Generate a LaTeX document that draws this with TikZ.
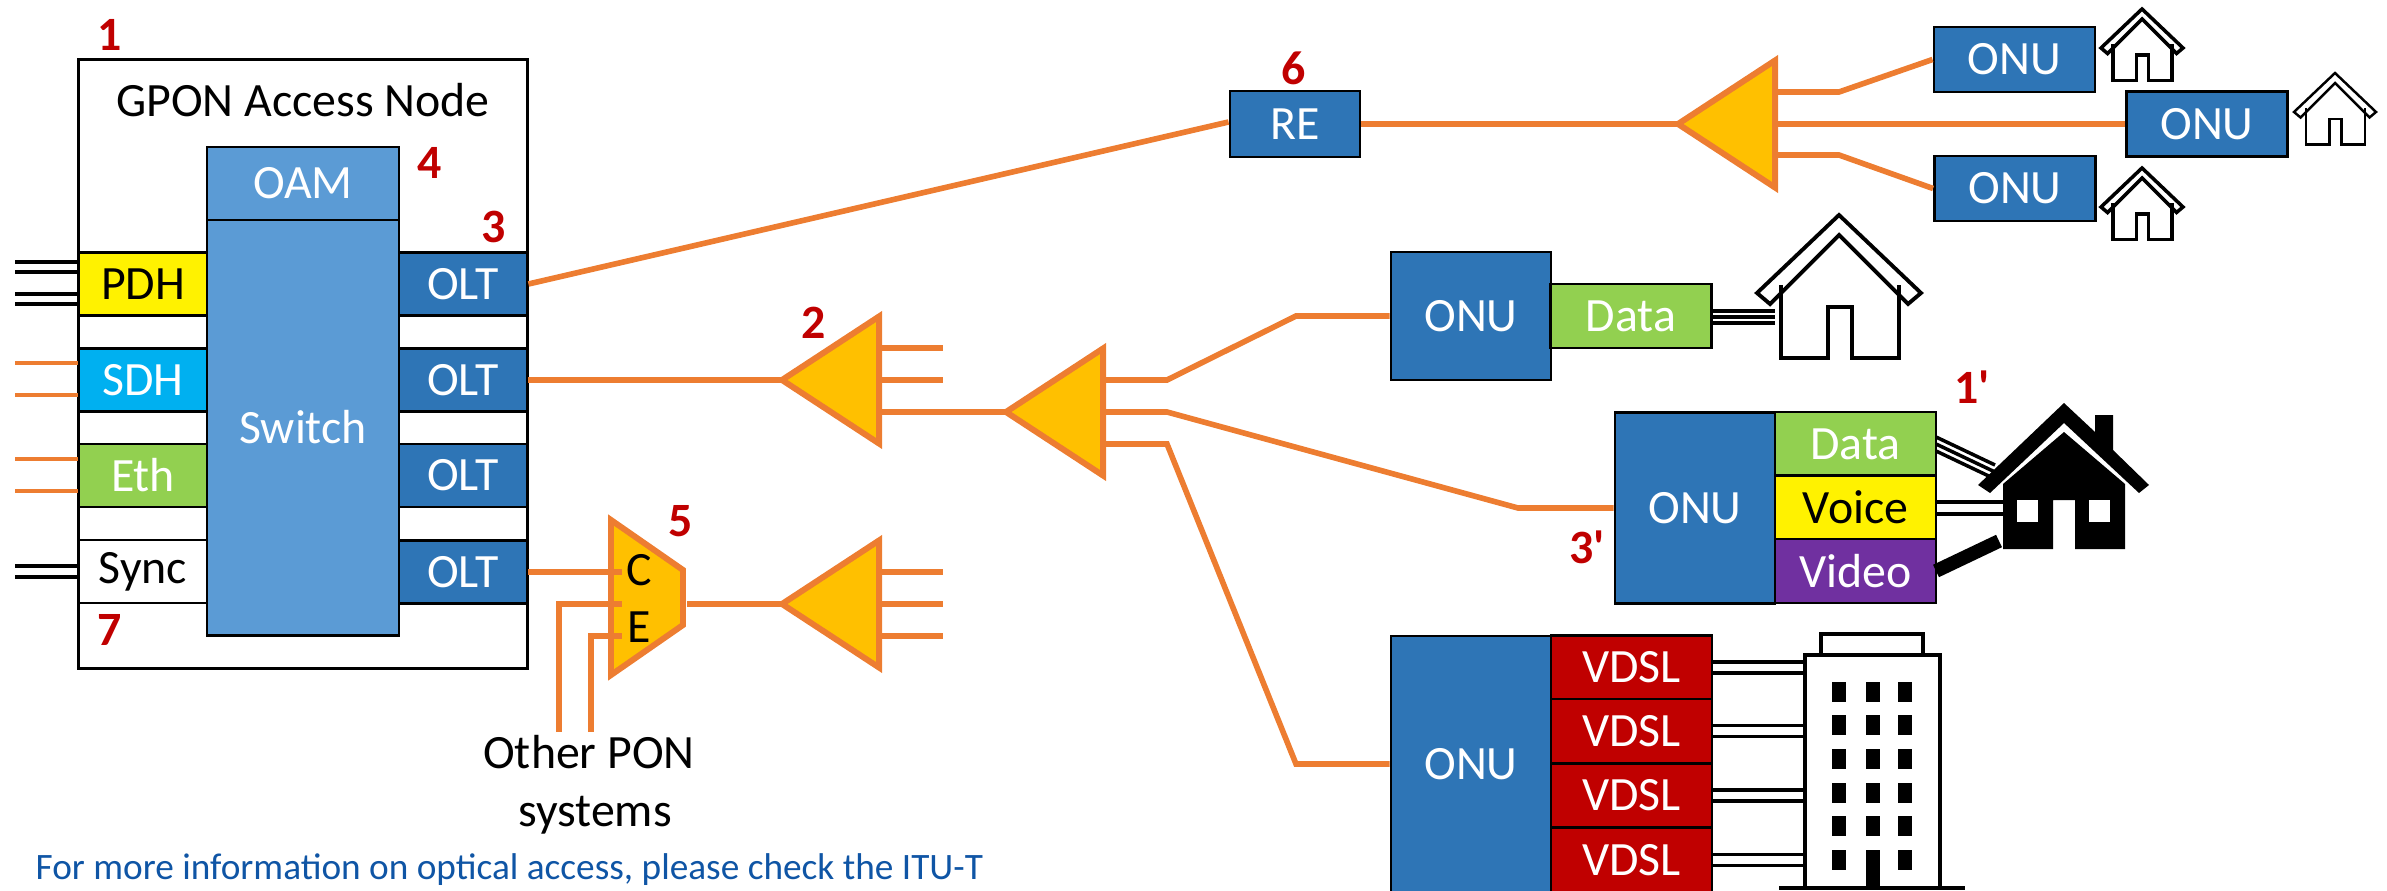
\documentclass[tikz,border=0pt]{standalone}
\usepackage{fontspec}
\setmainfont{Carlito}
\usetikzlibrary{shapes.geometric}
\definecolor{fiberorange}{HTML}{ED7D31}
\definecolor{splitgold}{HTML}{FFC000}
\definecolor{oltblue}{HTML}{2E75B6}
\definecolor{switchblue}{HTML}{5B9BD5}
\definecolor{sdhblue}{HTML}{00B0F0}
\definecolor{ethgreen}{HTML}{92D050}
\definecolor{videopurple}{HTML}{7030A0}
\definecolor{markred}{HTML}{C00000}
\definecolor{notelink}{HTML}{0F55A5}
\tikzset{
  box/.style={draw=black, line width=0.8pt, inner sep=0pt, font=\fontsize{13.6}{15}\selectfont, text=white},
  port/.style={box, minimum width=1.28cm, minimum height=0.63cm},
  olt/.style={port, fill=oltblue},
  onusmall/.style={box, fill=oltblue, minimum width=1.61cm, minimum height=0.65cm},
  service/.style={box, minimum width=1.61cm, minimum height=0.64cm},
  splitter/.style={isosceles triangle, isosceles triangle stretches, shape border rotate=180,
    draw=fiberorange, line width=1.7pt, fill=splitgold, inner sep=0pt, outer sep=0pt, anchor=apex,
    minimum width=1.27cm, minimum height=0.97cm},
  fiber/.style={draw=fiberorange, line width=1.6pt},
  copper/.style={draw=black, line width=1.3pt},
  num/.style={text=markred, font=\fontsize{13.6}{15}\selectfont\bfseries},
  plain/.style={font=\fontsize{13.6}{15}\selectfont},
  homeicon/.pic={
    \draw[fill=white] (-82,78) -- (0,0) -- (82,78) -- (69,89) -- (0,20) -- (-69,89) -- cycle;
    \draw (-58,70) -- (-58,143) -- (-11,143) -- (-11,92) -- (13,92) -- (13,143) -- (60,143) -- (60,70);
  }
}
\begin{document}
\begin{tikzpicture}[x=0.01cm, y=-0.01cm]
\useasboundingbox (0,0) rectangle (2387,891);

% access node
\node[draw=black, line width=0.8pt, minimum width=4.48cm, minimum height=6.08cm, inner sep=0pt] (gpon) at (303,364) {};
\node[plain] (gpontitle) at (303,100) {GPON Access Node};
\node[box, fill=switchblue, minimum width=1.92cm, minimum height=4.15cm] (switch) at (303,427.5) {Switch};
\node[box, fill=switchblue, minimum width=1.92cm, minimum height=0.73cm] (oam) at (303,183.5) {OAM};

\node[port, fill=yellow, text=black] (pdh) at (143,284) {PDH};
\node[port, fill=sdhblue] (sdh) at (143,380) {SDH};
\node[port, fill=ethgreen] (eth) at (143,475.5) {Eth};
\node[port, fill=white, text=black] (sync) at (143,571.5) {Sync};

\node[olt] (olt1) at (463,284) {OLT};
\node[olt] (olt2) at (463,380) {OLT};
\node[olt] (olt3) at (463,475.5) {OLT};
\node[olt] (olt4) at (463,572) {OLT};

% client side lines
\foreach \n/\y in {a/262,b/272,c/294,d/304}{
  \coordinate (pdhin\n) at (15,\y);
  \draw[copper] (pdhin\n) -- (pdh.west |- pdhin\n);
}
\foreach \n/\y in {a/566,b/577}{
  \coordinate (syncin\n) at (15,\y);
  \draw[copper] (syncin\n) -- (sync.west |- syncin\n);
}
\foreach \n/\y in {a/363,b/395}{
  \coordinate (sdhin\n) at (15,\y);
  \draw[fiber, line width=1.2pt] (sdhin\n) -- (sdh.west |- sdhin\n);
}
\foreach \n/\y in {a/459,b/491}{
  \coordinate (ethin\n) at (15,\y);
  \draw[fiber, line width=1.2pt] (ethin\n) -- (eth.west |- ethin\n);
}

% splitters
\node[splitter] (spa) at (782,380) {};
\node[splitter] (spb) at (1006,412) {};
\node[splitter] (spd) at (782,604) {};
\node[splitter] (spc) at (1678,124) {};

% tail ends
\coordinate (spaa) at (943,348);
\coordinate (spab) at (943,380);
\coordinate (spda) at (943,572);
\coordinate (spdb) at (943,604);
\coordinate (spdc) at (943,636);
\draw[fiber] (spa.lower side |- spaa) -- (spaa);
\draw[fiber] (spa.lower side |- spab) -- (spab);
\draw[fiber] (spd.lower side |- spda) -- (spda);
\draw[fiber] (spd.lower side |- spdb) -- (spdb);
\draw[fiber] (spd.lower side |- spdc) -- (spdc);
\draw[fiber] (spa.lower side |- spb.apex) -- (spb.apex);

% long fibres
\node[onusmall, minimum width=1.3cm, minimum height=0.66cm] (re) at (1295,124) {RE};
\draw[fiber] (olt1.east) -- (re.west |- 0,122);
\draw[fiber] (olt2.east) -- (spa.apex);
\draw[fiber] (re.east) -- (spc.apex);

% far onus
\node[onusmall] (onua) at (2014.5,59.5) {ONU};
\node[onusmall] (onub) at (2207,124) {ONU};
\node[onusmall] (onuc) at (2015,188.5) {ONU};
\coordinate (benda) at (1839,92);
\coordinate (bendc) at (1839,155);
\draw[fiber] (spc.lower side |- benda) -- (benda) -- (onua.west);
\draw[fiber] (spc.lower side |- spc.apex) -- (onub.west);
\draw[fiber] (spc.lower side |- bendc) -- (bendc) -- (onuc.west);
\pic[scale=0.5, line width=1pt] at (2142,9) {homeicon};
\pic[scale=0.5, line width=0.7pt] at (2335,73) {homeicon};
\pic[scale=0.5, line width=1pt] at (2142,168) {homeicon};

% first customer
\node[box, fill=oltblue, minimum width=1.6cm, minimum height=1.28cm] (onud) at (1471,316) {ONU};
\node[service, fill=ethgreen] (datad) at (1631,316) {Data};
\foreach \n/\y in {a/311,b/317,c/323}{
  \coordinate (homeda\n) at (1775,\y);
  \draw[copper, line width=1pt] (datad.east |- homeda\n) -- (homeda\n);
}
\pic[line width=1.1pt] at (1839,215) {homeicon};

% second customer
\node[box, fill=oltblue, minimum width=1.6cm, minimum height=1.91cm] (onue) at (1695,508) {ONU};
\node[service, fill=ethgreen] (datae) at (1855.5,444) {Data};
\node[service, fill=yellow, text=black] (voice) at (1855.5,507.5) {Voice};
\node[service, fill=videopurple] (video) at (1855.5,571) {Video};
\coordinate (bende) at (1518,508);

% third customer
\node[box, fill=oltblue, minimum width=1.6cm, minimum height=2.56cm] (onuf) at (1471,764) {ONU};
\foreach \n/\y in {a/667.5,b/731,c/795.5,d/860}{
  \node[service, fill=markred] (vdsl\n) at (1631.5,\y) {VDSL};
  \coordinate (tower\n) at (1803,\y);
  \draw[copper, line width=1.1pt] ([yshift=0.055cm]vdsl\n.east) -- ([yshift=0.055cm]tower\n);
  \draw[copper, line width=1.1pt] ([yshift=-0.055cm]vdsl\n.east) -- ([yshift=-0.055cm]tower\n);
}

% second splitter branches
\coordinate (spba) at (1167,380);
\coordinate (spbb) at (1167,412);
\coordinate (spbc) at (1167,444);
\coordinate (bendd) at (1296,316);
\coordinate (bendf) at (1296,764);
\draw[fiber] (spb.lower side |- spba) -- (spba) -- (bendd) -- (onud.west);
\draw[fiber] (spb.lower side |- spbb) -- (spbb) -- (bende) -- (onue.west);
\draw[fiber] (spb.lower side |- spbc) -- (spbc) -- (bendf) -- (onuf.west);

% wdm mux
\coordinate (muxa) at (611,520);
\coordinate (muxb) at (683,570);
\coordinate (muxc) at (683,625);
\coordinate (muxd) at (611,675);
\coordinate (muxout) at (687,604);
\coordinate (muxin) at (622,572);
\coordinate (muxine) at (622,604);
\coordinate (muxinf) at (622,636);
\coordinate (ponlinea) at (559,732);
\coordinate (ponlineb) at (591,732);
\draw[fiberorange, line width=1.7pt, fill=splitgold] (muxa) -- (muxb) -- (muxc) -- (muxd) -- cycle;
\draw[fiber] (olt4.east) -- (muxin);
\draw[fiber] (ponlinea) -- (ponlinea |- muxine) -- (muxine);
\draw[fiber] (ponlineb) -- (ponlineb |- muxinf) -- (muxinf);
\draw[fiber] (muxout) -- (spd.apex);
\node[plain] (labc) at (639,570) {C};
\node[plain] (labe) at (639,627) {E};
\node[plain, align=center] (pon) at (589,785) {Other PON\\[1.5pt]\hspace*{3.4pt}systems};

% lines to black house
\foreach \o in {-0.07,0,0.07}{
  \draw[copper, line width=1pt] ([yshift=\o cm]1936,444) -- ([yshift=\o cm]1995,472);
}
\draw[copper, line width=1.4pt] (1936,502) -- (2003,502);
\draw[copper, line width=1.4pt] (1936,514) -- (2003,514);
\draw[copper, line width=3.9pt] (1936,571) -- (1999,541);

% black house
\fill[black] (1978,485) -- (2064,403) -- (2095,432) -- (2095,415) -- (2113,415) -- (2113,450) -- (2149,485) -- (2139,493) -- (2064,423) -- (1990,493) -- cycle;
\fill[black] (2003,484) -- (2064,432) -- (2125,484) -- (2125,549) -- (2075,549) -- (2075,500) -- (2053,500) -- (2053,549) -- (2003,549) -- cycle;
\fill[white] (2017,500) rectangle (2038,522);
\fill[white] (2089,500) rectangle (2110,522);

% tower
\draw[line width=1.4pt] (1821,653) -- (1821,634) -- (1923,634) -- (1923,653);
\draw[line width=1.4pt] (1805,888) -- (1805,655) -- (1940,655) -- (1940,888);
\draw[line width=1.4pt] (1779,888) -- (1965,888);
\foreach \c in {1832,1866,1898}{
  \foreach \r in {682,715,749,783,816,850}{
    \fill[black] (\c,\r) rectangle ++(14,20);
  }
}
\fill[black] (1866,870) rectangle (1880,888);

% numbers
\node[num] (n1) at (110,35) {1};
\node[num] (n2) at (814,323) {2};
\node[num] (n3) at (494,227) {3};
\node[num] (n4) at (430,163) {4};
\node[num] (n5) at (681,521) {5};
\node[num] (n6) at (1294,68) {6};
\node[num] (n7) at (110,630) {7};
\node[num] (n1p) at (1972,387) {1\textquotesingle};
\node[num] (n3p) at (1587,547) {3\textquotesingle};

% note
\node[anchor=base west, text=notelink, font=\fontsize{10.6}{12}\selectfont, inner sep=0pt] (note) at (35,879) {For more information on optical access, please check the ITU-T};
\end{tikzpicture}
\end{document}
